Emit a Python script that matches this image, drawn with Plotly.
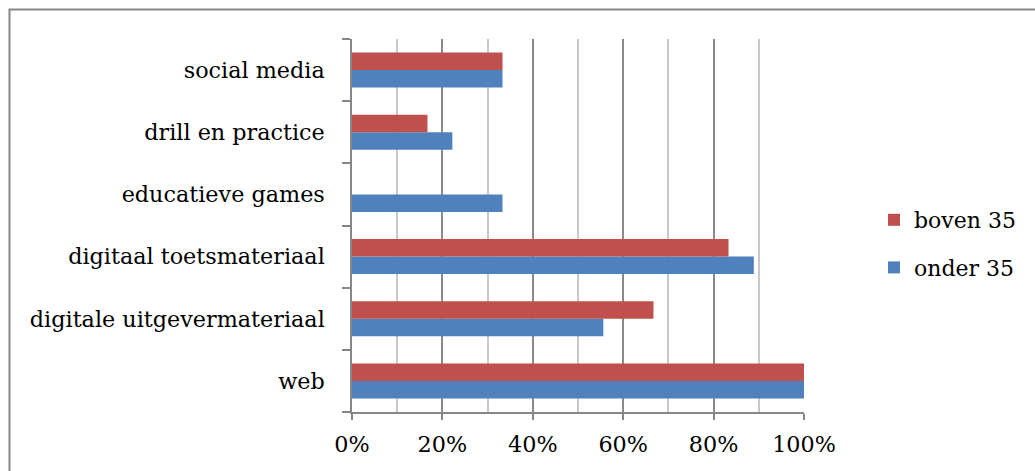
import plotly.graph_objects as go

categories = ["web", "digitale uitgevermateriaal", "digitaal toetsmateriaal",
              "educatieve games", "drill en practice", "social media"]
onder_35 = [1.0, 0.556, 0.889, 0.333, 0.222, 0.333]
boven_35 = [1.0, 0.667, 0.833, 0.0, 0.167, 0.333]
x_ticks = [0, 0.2, 0.4, 0.6, 0.8, 1.0]
x_tick_labels = ["0%", "20%", "40%", "60%", "80%", "100%"]

FONT = "DejaVu Serif"
W, H = 1035, 471
L, R, T, B = 352, 804, 39, 412

fig = go.Figure()
fig.add_trace(go.Bar(y=categories, x=onder_35, name="onder 35", orientation="h",
                     marker=dict(color="#4F81BD", line=dict(width=0)),
                     legendgroup="a", legendrank=2))
fig.add_trace(go.Bar(y=categories, x=boven_35, name="boven 35", orientation="h",
                     marker=dict(color="#C0504D", line=dict(width=0)),
                     legendgroup="b", legendrank=1))

def px_x(p):
    return (p - L) / (R - L)

def px_y(p):
    return (B - p) / (B - T)

fig.add_shape(type="path", xref="paper", yref="paper",
              path=f"M {px_x(9.5)},{px_y(480)} L {px_x(9.5)},{px_y(9.5)} L {px_x(1040)},{px_y(9.5)}",
              line=dict(color="#868686", width=2), layer="above")

fig.update_layout(
    width=W, height=H,
    margin=dict(l=L, r=W - R, t=T, b=H - B, pad=0),
    barmode="group", bargap=0.437, bargroupgap=0,
    plot_bgcolor="white", paper_bgcolor="white",
    font=dict(family=FONT, size=22.3, color="#000000"),
    showlegend=True,
    legend=dict(x=px_x(874), y=px_y(244), xanchor="left", yanchor="middle",
                traceorder="grouped", tracegroupgap=16,
                font=dict(family=FONT, size=22, color="#000000"),
                itemwidth=30, bgcolor="rgba(0,0,0,0)"),
    xaxis=dict(range=[0, 1], tickvals=x_ticks, ticktext=x_tick_labels,
               showgrid=True, gridcolor="#8a8a8a", gridwidth=1.5,
               minor=dict(dtick=0.1, showgrid=True, gridcolor="#c8c8c8", gridwidth=1.5, ticks=""),
               showline=True, linecolor="#868686", linewidth=1.5,
               ticks="outside", ticklen=6, tickcolor="#868686", tickwidth=1.5,
               ticklabelstandoff=5, zeroline=False, fixedrange=True),
    yaxis=dict(showline=True, linecolor="#868686", linewidth=1.5,
               ticks="outside", ticklen=8, tickcolor="#868686", tickwidth=1.5,
               tickson="boundaries", showgrid=False, ticklabelstandoff=21,
               fixedrange=True),
)

fig.write_html("out.html")
